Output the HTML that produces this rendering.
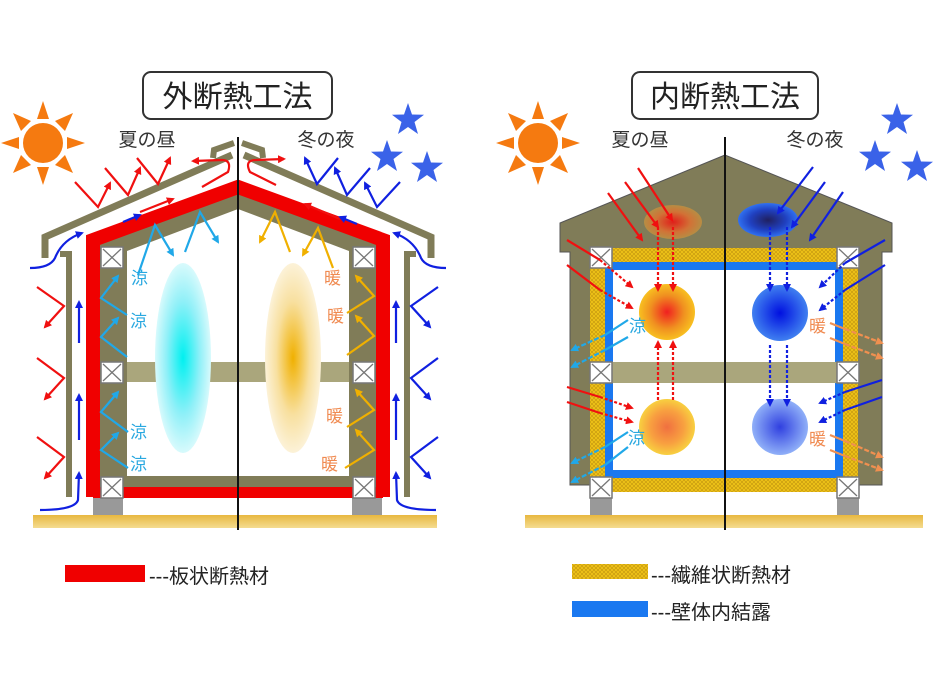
<!DOCTYPE html>
<html><head><meta charset="utf-8"><style>
html,body{margin:0;padding:0;background:#fff;}
svg{display:block;}
text{font-family:"Liberation Sans","Noto Sans CJK JP",sans-serif;}
</style></head><body>
<svg width="933" height="700" viewBox="0 0 933 700" xmlns="http://www.w3.org/2000/svg">
<defs>
<marker id="mr" markerWidth="8" markerHeight="8" refX="6" refY="4" orient="auto" markerUnits="userSpaceOnUse"><path d="M0,0 L8,4 L0,8 z" fill="#f01010"/></marker>
<marker id="mb" markerWidth="8" markerHeight="8" refX="6" refY="4" orient="auto" markerUnits="userSpaceOnUse"><path d="M0,0 L8,4 L0,8 z" fill="#1020e0"/></marker>
<marker id="mc" markerWidth="8" markerHeight="8" refX="6" refY="4" orient="auto" markerUnits="userSpaceOnUse"><path d="M0,0 L8,4 L0,8 z" fill="#20a8e8"/></marker>
<marker id="my" markerWidth="8" markerHeight="8" refX="6" refY="4" orient="auto" markerUnits="userSpaceOnUse"><path d="M0,0 L8,4 L0,8 z" fill="#f0b000"/></marker>
<marker id="mo" markerWidth="8" markerHeight="8" refX="6" refY="4" orient="auto" markerUnits="userSpaceOnUse"><path d="M0,0 L8,4 L0,8 z" fill="#f09050"/></marker>
<radialGradient id="gc"><stop offset="0" stop-color="#00f0f0"/><stop offset="0.6" stop-color="#90f0f8"/><stop offset="1" stop-color="#d8fafc"/></radialGradient>
<radialGradient id="gy"><stop offset="0" stop-color="#f0b000"/><stop offset="0.6" stop-color="#f8e0a0"/><stop offset="1" stop-color="#fcf2d8"/></radialGradient>
<radialGradient id="gr1"><stop offset="0" stop-color="#f02020"/><stop offset="0.6" stop-color="#f09020"/><stop offset="1" stop-color="#f8c020"/></radialGradient>
<radialGradient id="gr2"><stop offset="0" stop-color="#f07040"/><stop offset="0.6" stop-color="#f8a040"/><stop offset="1" stop-color="#f8d040"/></radialGradient>
<radialGradient id="gra"><stop offset="0" stop-color="#f01010"/><stop offset="0.6" stop-color="#e07030"/><stop offset="1" stop-color="#c09040"/></radialGradient>
<radialGradient id="gb1"><stop offset="0" stop-color="#0010e0"/><stop offset="1" stop-color="#4080f0"/></radialGradient>
<radialGradient id="gb2"><stop offset="0" stop-color="#3040e0"/><stop offset="1" stop-color="#90b0f8"/></radialGradient>
<radialGradient id="gba"><stop offset="0" stop-color="#202060"/><stop offset="0.6" stop-color="#2040c0"/><stop offset="1" stop-color="#3070f0"/></radialGradient>
<pattern id="fib" width="4" height="4" patternUnits="userSpaceOnUse"><rect width="4" height="4" fill="#f0c418"/><path d="M0,0 L4,4 M4,0 L0,4" stroke="#c89a10" stroke-width="0.7"/></pattern>
<linearGradient id="gnd" x1="0" y1="0" x2="0" y2="1"><stop offset="0" stop-color="#e8b840"/><stop offset="1" stop-color="#f4dc90"/></linearGradient>
<g id="xb"><rect x="0" y="0" width="22" height="21" fill="#fff" stroke="#777" stroke-width="1.5"/><path d="M2,2 L20,19 M20,2 L2,19" stroke="#777" stroke-width="1.3"/></g>
<g id="star"><path d="M0,-17 L4,-5.5 L16,-5.3 L6.5,2 L10,14 L0,7 L-10,14 L-6.5,2 L-16,-5.3 L-4,-5.5 z" fill="#3a62e8"/></g>
<g id="sun"><circle r="20" fill="#f57a10"/><g fill="#f57a10"><path d="M-6,-24 L0,-42 L6,-24z"/><path d="M-6,24 L0,42 L6,24z"/><path d="M-24,-6 L-42,0 L-24,6z"/><path d="M24,-6 L42,0 L24,6z"/><path d="M-22,-12 L-30,-30 L-12,-22z"/><path d="M22,-12 L30,-30 L12,-22z"/><path d="M-22,12 L-30,30 L-12,22z"/><path d="M22,12 L30,30 L12,22z"/></g></g>
</defs>

<!-- ===== LEFT: 外断熱工法 ===== -->
<rect x="143" y="72" width="189" height="47" rx="8" fill="#fff" stroke="#333" stroke-width="2"/>
<text x="237.5" y="107" font-size="30" text-anchor="middle" fill="#222">外断熱工法</text>
<text x="147" y="146" font-size="19" text-anchor="middle" fill="#333">夏の昼</text>
<text x="326" y="146" font-size="19" text-anchor="middle" fill="#333">冬の夜</text>
<use href="#sun" x="43" y="143"/>
<use href="#star" x="408" y="120"/><use href="#star" x="387" y="157"/><use href="#star" x="427" y="168"/>

<!-- ground -->
<rect x="33" y="515" width="404" height="13" fill="url(#gnd)"/>
<rect x="93" y="498" width="30" height="17" fill="#999"/><rect x="352" y="498" width="30" height="17" fill="#999"/>
<!-- outer roof siding -->
<polyline points="45,258 45,237 232,155" fill="none" stroke="#807c58" stroke-width="7"/>
<polyline points="431,258 431,237 244,155" fill="none" stroke="#807c58" stroke-width="7"/>
<path d="M213,158 L214,150 L234,143" fill="none" stroke="#807c58" stroke-width="6"/>
<path d="M263,158 L262,150 L242,143" fill="none" stroke="#807c58" stroke-width="6"/>
<polyline points="60,254 69,254 69,497" fill="none" stroke="#807c58" stroke-width="6"/>
<polyline points="416,254 407,254 407,497" fill="none" stroke="#807c58" stroke-width="6"/>
<!-- structure -->
<polygon points="100,490 100,244 238,194 376,244 376,490" fill="#807c58"/>
<polygon points="127,476 127,251 238,209 349,251 349,476" fill="#fff"/>
<rect x="127" y="362" width="222" height="20" fill="#aaa67c"/>
<polyline points="93,497 93,240 238,187 383,240 383,497" fill="none" stroke="#f00000" stroke-width="14"/>
<rect x="93" y="487" width="290" height="11" fill="#f00000"/>
<use href="#xb" x="101" y="247"/><use href="#xb" x="101" y="362"/><use href="#xb" x="101" y="477"/>
<use href="#xb" x="353" y="247"/><use href="#xb" x="353" y="362"/><use href="#xb" x="353" y="477"/>
<ellipse cx="183" cy="358" rx="28" ry="95" fill="url(#gc)"/>
<ellipse cx="293" cy="358" rx="28" ry="95" fill="url(#gy)"/>
<line x1="238" y1="137" x2="238" y2="530" stroke="#111" stroke-width="2"/>

<!-- left arrows -->
<g fill="none" stroke-width="2.2">
<g stroke="#f01010" marker-end="url(#mr)">
<path d="M75,182 L98,207 L110,183"/><path d="M105,168 L128,195 L140,168"/><path d="M137,158 L158,184 L170,158"/>
<path d="M202,187 L228,172 Q232,160 222,160 L193,161"/>
<path d="M276,185 L250,172 Q244,160 256,160 L284,159"/>
<path d="M140,212 L173,199"/><path d="M340,219 L305,204"/>
<path d="M37,287 L64,306 L45,327"/><path d="M37,358 L64,378 L45,399"/><path d="M37,437 L64,457 L45,478"/>
</g>
<g stroke="#1020e0" marker-end="url(#mb)">
<path d="M400,182 L377,207 L365,183"/><path d="M370,168 L347,195 L335,168"/><path d="M338,158 L317,184 L305,158"/>
<path d="M123,222 L140,215"/><path d="M357,224 L340,217"/>
<path d="M30,268 Q50,268 55,258 Q62,240 82,233"/><path d="M446,268 Q426,268 421,258 Q414,240 394,233"/>
<path d="M40,510 Q75,510 78,500 L79,473"/><path d="M436,510 Q400,510 397,500 L396,473"/>
<path d="M79,343 L79,302"/><path d="M79,440 L79,395"/>
<path d="M396,343 L396,302"/><path d="M396,440 L396,395"/>
<path d="M438,287 L411,306 L430,327"/><path d="M438,358 L411,378 L430,399"/><path d="M438,437 L411,457 L430,478"/>
</g>
<g stroke="#20a8e8" marker-end="url(#mc)">
<path d="M138,275 L155,225 L173,255"/><path d="M185,252 L200,212 L218,242"/>
<path d="M127,315 L101,298 L118,276"/><path d="M127,357 L101,337 L118,318"/>
<path d="M128,432 L101,412 L118,392"/><path d="M128,468 L101,450 L118,433"/>
</g>
<g stroke="#f0b000" marker-end="url(#my)">
<path d="M333,268 L318,228 L303,255"/><path d="M290,252 L275,212 L260,242"/>
<path d="M347,313 L374,296 L356,276"/><path d="M347,355 L374,336 L356,316"/>
<path d="M347,427 L374,410 L356,390"/><path d="M345,468 L374,450 L356,430"/>
</g>
</g>
<g font-size="17" fill="#29a8e0"><text x="131" y="284">涼</text><text x="130" y="327">涼</text><text x="130" y="438">涼</text><text x="130" y="470">涼</text></g>
<g font-size="17" fill="#f08a50"><text x="324" y="284">暖</text><text x="327" y="322">暖</text><text x="326" y="422">暖</text><text x="321" y="470">暖</text></g>

<!-- ===== RIGHT: 内断熱工法 ===== -->
<rect x="632" y="72" width="186" height="47" rx="8" fill="#fff" stroke="#333" stroke-width="2"/>
<text x="725" y="107" font-size="30" text-anchor="middle" fill="#222">内断熱工法</text>
<text x="640" y="146" font-size="19" text-anchor="middle" fill="#333">夏の昼</text>
<text x="815" y="146" font-size="19" text-anchor="middle" fill="#333">冬の夜</text>
<use href="#sun" x="538" y="143"/>
<use href="#star" x="897" y="120"/><use href="#star" x="875" y="157"/><use href="#star" x="917" y="167"/>

<rect x="525" y="515" width="398" height="13" fill="url(#gnd)"/>
<rect x="590" y="498" width="22" height="17" fill="#999"/><rect x="837" y="498" width="22" height="17" fill="#999"/>
<polygon points="725,155 560,223 560,252 570,252 570,485 882,485 882,252 892,252 892,223" fill="#807c58" stroke="#555" stroke-width="1"/>
<rect x="590" y="248" width="268" height="244" fill="url(#fib)"/>
<rect x="605" y="262" width="238" height="216" fill="#1a78f0"/>
<rect x="613" y="270" width="222" height="200" fill="#fff"/>
<rect x="605" y="362" width="238" height="21" fill="#aaa67c"/>
<use href="#xb" x="590" y="247"/><use href="#xb" x="590" y="362"/><use href="#xb" x="590" y="477"/>
<use href="#xb" x="837" y="247"/><use href="#xb" x="837" y="362"/><use href="#xb" x="837" y="477"/>
<ellipse cx="673" cy="222" rx="29" ry="17" fill="url(#gra)" opacity="0.85"/>
<ellipse cx="768" cy="220" rx="30" ry="17" fill="url(#gba)"/>
<circle cx="667" cy="312" r="28" fill="url(#gr1)"/>
<circle cx="667" cy="427" r="28" fill="url(#gr2)"/>
<circle cx="780" cy="313" r="28" fill="url(#gb1)"/>
<circle cx="780" cy="427" r="28" fill="url(#gb2)"/>
<line x1="725" y1="137" x2="725" y2="530" stroke="#111" stroke-width="2"/>

<g fill="none" stroke-width="2.2">
<g stroke="#f01010">
<path d="M608,193 L642,240" marker-end="url(#mr)"/><path d="M625,182 L658,227" marker-end="url(#mr)"/><path d="M638,168 L672,220" marker-end="url(#mr)"/>
<path d="M567,240 L600,260"/><path d="M567,265 L600,290"/><path d="M567,387 L600,397"/><path d="M567,402 L600,413"/>
<g stroke-dasharray="3,2" marker-end="url(#mr)">
<path d="M658,227 L658,290"/><path d="M673,227 L673,290"/>
<path d="M658,400 L658,342"/><path d="M673,400 L673,342"/>
<path d="M600,260 L632,287"/><path d="M600,290 L632,308"/><path d="M600,397 L632,408"/><path d="M600,413 L632,422"/>
</g></g>
<g stroke="#1020e0">
<path d="M813,167 L778,213" marker-end="url(#mb)"/><path d="M825,182 L792,227" marker-end="url(#mb)"/><path d="M843,192 L810,240" marker-end="url(#mb)"/>
<path d="M885,240 L845,263"/><path d="M885,265 L845,290"/><path d="M882,380 L845,392"/><path d="M882,397 L845,410"/>
<g stroke-dasharray="3,2" marker-end="url(#mb)">
<path d="M770,227 L770,290"/><path d="M787,227 L787,290"/>
<path d="M770,345 L770,405"/><path d="M787,345 L787,405"/>
<path d="M845,263 L820,287"/><path d="M845,290 L820,310"/><path d="M845,392 L820,403"/><path d="M845,410 L820,422"/>
</g></g>
<g stroke="#20a8e8">
<path d="M628,320 L605,335"/><path d="M628,337 L605,350"/><path d="M628,432 L605,447"/><path d="M628,447 L605,465"/>
<g stroke-dasharray="5,2" marker-end="url(#mc)">
<path d="M605,335 L572,350"/><path d="M605,350 L572,367"/><path d="M605,447 L572,463"/><path d="M605,465 L572,482"/>
</g></g>
<g stroke="#f09050">
<path d="M830,323 L845,329"/><path d="M830,338 L845,344"/><path d="M830,435 L845,441"/><path d="M830,450 L845,456"/>
<g stroke-dasharray="5,2" marker-end="url(#mo)">
<path d="M845,329 L882,343"/><path d="M845,344 L882,358"/><path d="M845,441 L882,457"/><path d="M845,456 L882,470"/>
</g></g>
</g>
<g font-size="17" fill="#29a8e0"><text x="629" y="332">涼</text><text x="628" y="444">涼</text></g>
<g font-size="17" fill="#f08a50"><text x="809" y="332">暖</text><text x="809" y="445">暖</text></g>

<!-- legends -->
<rect x="65" y="565" width="80" height="17" fill="#f00000"/>
<text x="149" y="583" font-size="20" fill="#222">---板状断熱材</text>
<rect x="572" y="564" width="76" height="15" fill="url(#fib)"/>
<text x="651" y="582" font-size="20" fill="#222">---繊維状断熱材</text>
<rect x="572" y="601" width="76" height="16" fill="#1a78f0"/>
<text x="651" y="619" font-size="20" fill="#222">---壁体内結露</text>
</svg>
</body></html>
